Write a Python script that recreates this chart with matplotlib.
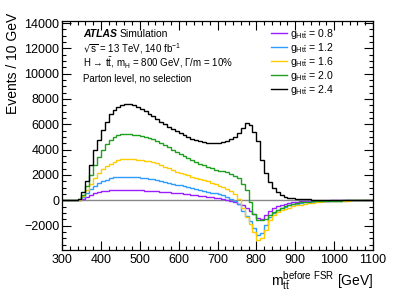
import matplotlib
matplotlib.use('Agg')
import matplotlib.pyplot as plt
import numpy as np

# fuente tipo Helvetica
plt.rcParams['font.family'] = ['Liberation Sans', 'DejaVu Sans']
plt.rcParams['mathtext.default'] = 'regular'

# bordes de los bins: 300 a 1100 GeV en pasos de 10
edges = np.arange(300, 1110, 10)

# Eventos / 10 GeV para cada acoplamiento g_Htt
g08 = [0, 0, 0, 0, 15, 100, 250, 420, 560, 650, 720, 770, 800, 815, 825, 830, 830, 825, 815, 800,
       785, 770, 750, 730, 710, 690, 670, 640, 610, 580, 550, 510, 470, 430, 390, 350, 310, 270, 230, 190,
       140, 90, 30, -50, -150, -260, -400, -600, -850, -1100, -1400, -1450, -1150, -850, -620, -470, -360, -270, -210, -160,
       -120, -95, -75, -60, -48, -38, -30, -25, -20, -16, -13, -11, -9, -8, -7, -6, -5, -4, -4, -3]
g12 = [0, 0, 0, 0, 30, 250, 550, 870, 1130, 1350, 1520, 1640, 1730, 1800, 1840, 1860, 1870, 1860, 1840, 1810,
       1780, 1740, 1700, 1650, 1590, 1520, 1450, 1380, 1310, 1240, 1170, 1100, 1030, 960, 890, 820, 750, 680, 610, 540,
       460, 380, 270, 120, -50, -300, -850, -1250, -1650, -2200, -2750, -2600, -1950, -1300, -1030, -780, -620, -500, -400, -320,
       -260, -210, -170, -135, -105, -85, -68, -55, -45, -37, -30, -25, -21, -18, -15, -13, -11, -9, -8, -7]
g16 = [0, 0, 0, 0, 50, 350, 800, 1280, 1720, 2120, 2450, 2700, 2900, 3060, 3170, 3240, 3270, 3260, 3230, 3190,
       3150, 3110, 3080, 3040, 2930, 2800, 2650, 2520, 2390, 2260, 2150, 2050, 1960, 1870, 1780, 1700, 1610, 1500, 1400, 1290,
       1150, 1030, 870, 700, 480, 100, -600, -1350, -1900, -2500, -3100, -2950, -2350, -1560, -1200, -950, -800, -680, -580, -490,
       -410, -340, -280, -225, -180, -140, -110, -85, -65, -50, -40, -32, -26, -21, -17, -14, -12, -10, -8, -7]
g20 = [0, 0, 0, 0, 70, 420, 1130, 2000, 2790, 3450, 3970, 4420, 4780, 5000, 5130, 5200, 5220, 5210, 5180, 5130,
       5070, 5000, 4930, 4850, 4700, 4530, 4370, 4180, 3990, 3800, 3620, 3460, 3300, 3160, 3020, 2880, 2750, 2620, 2520, 2420,
       2350, 2280, 2200, 2100, 1950, 1720, 1300, 800, -100, -1100, -1550, -1580, -1500, -1200, -950, -750, -600, -470, -360, -280,
       -220, -170, -135, -105, -85, -68, -55, -45, -37, -30, -25, -20, -17, -14, -12, -10, -8, -7, -6, -5]
g24 = [0, 0, 0, 0, 120, 650, 1550, 2800, 3980, 4800, 5550, 6200, 6780, 7150, 7400, 7550, 7610, 7600, 7500, 7380,
       7230, 7050, 6850, 6640, 6430, 6220, 6020, 5820, 5630, 5450, 5280, 5120, 4980, 4850, 4740, 4650, 4580, 4530, 4500, 4490,
       4510, 4580, 4700, 4840, 5030, 5290, 5690, 6100, 5950, 5420, 4650, 3150, 2130, 1450, 1000, 650, 420, 290, 200, 160,
       130, 100, 80, 65, 55, 45, 38, 32, 27, 23, 20, 17, 15, 13, 11, 10, 9, 8, 7, 6]

series = [g08, g12, g16, g20, g24]
labels = ['0.8', '1.2', '1.6', '2.0', '2.4']
colors = ['#9b1cff', '#2e9bff', '#ffcc00', '#1f9e1f', '#000000']

fig = plt.figure(figsize=(4.15, 2.98), dpi=100)
ax = fig.add_axes([0.1494, 0.161, 0.7494, 0.7685])

# linea de cero
ax.axhline(0, color='#888888', lw=1.0, zorder=1)

for vals, lab, col in zip(series, labels, colors):
    ax.stairs(vals, edges, color=col, lw=1.0, zorder=2,
              label=r'$g_{Ht\bar{t}}$ = ' + lab)

ax.set_xlim(300, 1100)
ax.set_ylim(-3930, 14160)
ax.set_xticks(np.arange(300, 1101, 100))
ax.set_xticks(np.arange(300, 1101, 20), minor=True)
ax.set_yticks(np.arange(-2000, 14001, 2000))
ax.set_yticks(np.arange(-3500, 14001, 500), minor=True)
ax.tick_params(which='both', direction='in', top=True, right=True, labelsize=9)
ax.tick_params(which='major', length=6.5, width=0.8)
ax.tick_params(which='minor', length=3.2, width=0.8)
ax.tick_params(axis='y', pad=2)
ax.tick_params(axis='x', pad=3)
for s in ax.spines.values():
    s.set_linewidth(0.9)

ax.set_ylabel('Events / 10 GeV', fontsize=10, loc='top')
ax.yaxis.set_label_coords(-0.135, 1.035)
ax.set_xlabel(r'$m_{t\bar{t}}^{before\ FSR}$ [GeV]', fontsize=10, loc='right')
ax.xaxis.set_label_coords(1.0, -0.085)

# textos ATLAS
tx = 0.068
ax.text(tx, 0.945, 'ATLAS', transform=ax.transAxes, fontsize=7.5,
        fontweight='bold', fontstyle='italic', va='center')
ax.text(tx + 0.118, 0.945, 'Simulation', transform=ax.transAxes, fontsize=7.5, va='center')
ax.text(tx, 0.88, r'$\sqrt{s}$ = 13 TeV, 140 fb$^{-1}$', transform=ax.transAxes,
        fontsize=7, va='center')
ax.text(tx, 0.815, r'H → t$\bar{t}$, $m_{H}$ = 800 GeV, Γ/m = 10%',
        transform=ax.transAxes, fontsize=7, va='center')
ax.text(tx, 0.75, 'Parton level, no selection', transform=ax.transAxes,
        fontsize=7, va='center')

ax.legend(loc='upper left', bbox_to_anchor=(0.665, 0.985), frameon=False,
          fontsize=7.6, handlelength=1.5, handletextpad=0.35, labelspacing=0.0,
          borderpad=0.2, borderaxespad=0.0)

plt.savefig('out.png', dpi=100)
